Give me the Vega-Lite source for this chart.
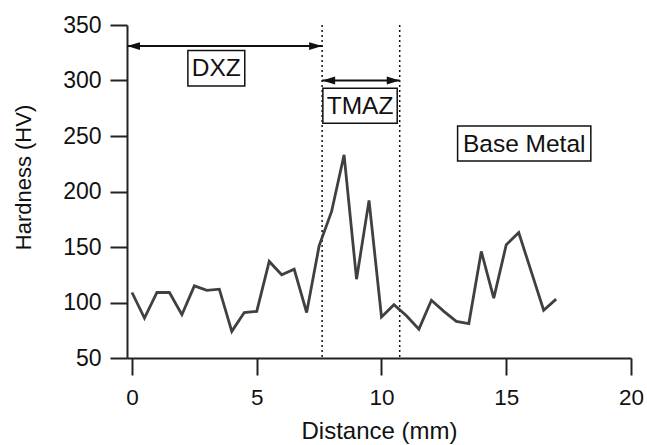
{
  "$schema": "https://vega.github.io/schema/vega-lite/v6.json",
  "width": 504,
  "height": 333,
  "autosize": {"type": "none"},
  "padding": {"left": 127, "top": 25, "right": 16, "bottom": 87},
  "background": "white",
  "config": {
    "view": {"stroke": null},
    "font": "Liberation Sans",
    "axis": {"grid": false, "domainColor": "#222", "domainWidth": 2, "tickColor": "#222", "tickWidth": 2, "tickSize": 17, "labelColor": "#111", "titleColor": "#111", "labelFont": "Liberation Sans", "titleFont": "Liberation Sans", "titleFontWeight": "normal"}
  },
  "datasets": {
    "hardness": [
      {"d": 0, "hv": 109}, {"d": 0.5, "hv": 86}, {"d": 1, "hv": 109}, {"d": 1.5, "hv": 109},
      {"d": 2, "hv": 89}, {"d": 2.5, "hv": 115}, {"d": 3, "hv": 111}, {"d": 3.5, "hv": 112},
      {"d": 4, "hv": 74}, {"d": 4.5, "hv": 91}, {"d": 5, "hv": 92}, {"d": 5.5, "hv": 137},
      {"d": 6, "hv": 125}, {"d": 6.5, "hv": 130}, {"d": 7, "hv": 91}, {"d": 7.5, "hv": 151},
      {"d": 8, "hv": 182}, {"d": 8.5, "hv": 233}, {"d": 9, "hv": 121}, {"d": 9.5, "hv": 192},
      {"d": 10, "hv": 87}, {"d": 10.5, "hv": 98}, {"d": 11, "hv": 88}, {"d": 11.5, "hv": 76},
      {"d": 12, "hv": 102}, {"d": 12.5, "hv": 92}, {"d": 13, "hv": 83}, {"d": 13.5, "hv": 81},
      {"d": 14, "hv": 146}, {"d": 14.5, "hv": 104}, {"d": 15, "hv": 152}, {"d": 15.5, "hv": 163},
      {"d": 16, "hv": 128}, {"d": 16.5, "hv": 93}, {"d": 17, "hv": 103}
    ],
    "bounds": [{"b": 7.62}, {"b": 10.73}],
    "arrows": [
      {"zone": "DXZ", "x1": -0.2, "x2": 7.62, "y": 331, "hl": 0.06, "hr": 7.36},
      {"zone": "TMAZ", "x1": 7.62, "x2": 10.73, "y": 300, "hl": 7.88, "hr": 10.47}
    ],
    "boxes": [
      {"label": "DXZ", "x1": 2.24, "x2": 4.52, "y1": 295, "y2": 327, "cx": 3.38, "cy": 311},
      {"label": "TMAZ", "x1": 7.65, "x2": 10.63, "y1": 261.5, "y2": 293, "cx": 9.14, "cy": 277},
      {"label": "Base Metal", "x1": 13.05, "x2": 18.39, "y1": 227.5, "y2": 259, "cx": 15.72, "cy": 243}
    ]
  },
  "layer": [
    {
      "data": {"name": "bounds"},
      "mark": {"type": "rule", "color": "#111", "strokeWidth": 1.5, "strokeDash": [2, 3]},
      "encoding": {
        "x": {"field": "b", "type": "quantitative", "scale": {"domain": [-0.2, 20]}}
      }
    },
    {
      "data": {"name": "boxes"},
      "mark": {"type": "rect", "fill": "white", "stroke": "#111", "strokeWidth": 1.5},
      "encoding": {
        "x": {"field": "x1", "type": "quantitative"},
        "x2": {"field": "x2"},
        "y": {"field": "y1", "type": "quantitative"},
        "y2": {"field": "y2"}
      }
    },
    {
      "data": {"name": "boxes"},
      "mark": {"type": "text", "fontSize": 24.5, "color": "#111", "align": "center", "baseline": "middle", "dy": 1},
      "encoding": {
        "x": {"field": "cx", "type": "quantitative"},
        "y": {"field": "cy", "type": "quantitative"},
        "text": {"field": "label"}
      }
    },
    {
      "data": {"name": "arrows"},
      "mark": {"type": "rule", "color": "#111", "strokeWidth": 2},
      "encoding": {
        "x": {"field": "x1", "type": "quantitative"},
        "x2": {"field": "x2"},
        "y": {"field": "y", "type": "quantitative"}
      }
    },
    {
      "data": {"name": "arrows"},
      "mark": {"type": "point", "shape": "M-1,0L1,-0.6L1,0.6Z", "filled": true, "color": "#111", "opacity": 1, "size": 169},
      "encoding": {
        "x": {"field": "hl", "type": "quantitative"},
        "y": {"field": "y", "type": "quantitative"}
      }
    },
    {
      "data": {"name": "arrows"},
      "mark": {"type": "point", "shape": "M1,0L-1,-0.6L-1,0.6Z", "filled": true, "color": "#111", "opacity": 1, "size": 169},
      "encoding": {
        "x": {"field": "hr", "type": "quantitative"},
        "y": {"field": "y", "type": "quantitative"}
      }
    },
    {
      "data": {"name": "hardness"},
      "mark": {"type": "line", "color": "#404040", "strokeWidth": 2.8},
      "encoding": {
        "x": {
          "field": "d", "type": "quantitative",
          "scale": {"domain": [-0.2, 20], "nice": false, "zero": false},
          "axis": {"values": [0, 5, 10, 15, 20], "title": "Distance (mm)", "labelFontSize": 22.5, "labelPadding": 11, "titleFontSize": 24, "titleX": 252, "titleY": 73, "titleBaseline": "middle", "titleAlign": "center", "labelFlush": false}
        },
        "y": {
          "field": "hv", "type": "quantitative",
          "scale": {"domain": [50, 350], "nice": false, "zero": false},
          "axis": {"values": [50, 100, 150, 200, 250, 300, 350], "title": "Hardness (HV)", "labelFontSize": 23, "labelPadding": 9, "titleFontSize": 22, "titleX": -104, "titleY": 152, "titleAngle": -90, "titleBaseline": "middle", "titleAlign": "center"}
        }
      }
    }
  ]
}
